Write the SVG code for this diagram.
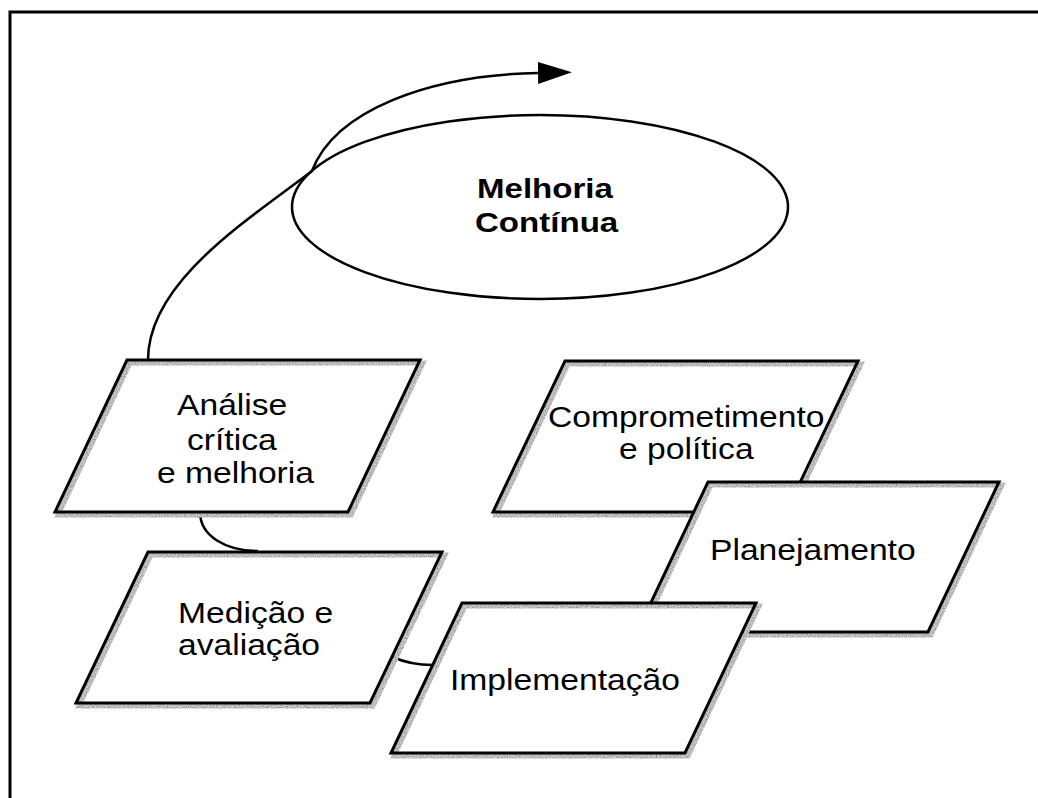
<svg xmlns="http://www.w3.org/2000/svg" width="1038" height="798" viewBox="0 0 1038 798">
  <defs>
    <style>
      .frame { fill: none; stroke: #000; stroke-width: 3; }
      .box { fill: #fff; stroke: none; }
      .shadow { fill: none; stroke: #7a7a7a; stroke-width: 5; stroke-linejoin: miter; filter: url(#grain); }
      .edge { fill: none; stroke: #000; stroke-width: 3; stroke-linejoin: miter; }
      .oval { fill: #fff; stroke: #000; stroke-width: 2.5; }
      .link { fill: none; stroke: #000; stroke-width: 2.5; }
      .lbl { font-family: "Liberation Sans", Arial, Helvetica, sans-serif; font-size: 29px; fill: #000; }
      .title { font-family: "Liberation Sans", Arial, Helvetica, sans-serif; font-size: 28.5px; font-weight: bold; fill: #000; }
    </style>
    <!-- speckled grey texture for the drop shadows -->
    <filter id="grain" filterUnits="userSpaceOnUse" x="0" y="0" width="1038" height="798">
      <feTurbulence type="fractalNoise" baseFrequency="0.9" numOctaves="1" seed="3" result="noise"/>
      <feColorMatrix in="noise" type="matrix" values="0.9 0 0 0 0.05  0.9 0 0 0 0.05  0.9 0 0 0 0.05  0 0 0 0 1" result="grey"/>
      <feComposite in="grey" in2="SourceGraphic" operator="in"/>
    </filter>
    <marker id="arrow" markerUnits="userSpaceOnUse" markerWidth="36" markerHeight="24" refX="0" refY="11" orient="auto" viewBox="0 0 36 24">
      <path d="M0,0 L34,11 L0,22 Z" fill="#000"/>
    </marker>
  </defs>

  <!-- outer frame (only top and left edges fall inside the page) -->
  <rect class="frame" x="10" y="12" width="1100" height="900"/>

  <!-- central goal -->
  <g id="melhoria-continua">
    <ellipse class="oval" cx="540" cy="207" rx="248" ry="92"/>
    <text class="title" transform="translate(477,198) scale(1.16,1)">Melhoria</text>
    <text class="title" transform="translate(475,232) scale(1.16,1)">Contínua</text>
  </g>

  <!-- connectors -->
  <g id="connectors">
    <path class="link" d="M148,360 C148,282 248,220 312,171"/>
    <path class="link" d="M312,171 C335,110 430,75 538,73" marker-end="url(#arrow)"/>
    <path class="link" d="M200,512 C200,536 226,551 258,551"/>
    <path class="link" d="M393,657 Q410,665 433,665"/>
  </g>

  <g id="analise">
    <polygon class="box" points="127,360 420,360 348,512 55,512"/>
    <polygon class="shadow" transform="translate(3,3)" points="127,360 420,360 348,512 55,512"/>
    <polygon class="edge" points="127,360 420,360 348,512 55,512"/>
    <text class="lbl" transform="translate(177,415) scale(1.16,1)">Análise</text>
    <text class="lbl" transform="translate(187,450) scale(1.16,1)">crítica</text>
    <text class="lbl" transform="translate(157,483) scale(1.16,1)">e melhoria</text>
  </g>

  <g id="medicao">
    <polygon class="box" points="148,552 442,552 370,703 76,703"/>
    <polygon class="shadow" transform="translate(3,3)" points="148,552 442,552 370,703 76,703"/>
    <polygon class="edge" points="148,552 442,552 370,703 76,703"/>
    <text class="lbl" transform="translate(178,623) scale(1.16,1)">Medição e</text>
    <text class="lbl" transform="translate(178,655) scale(1.16,1)">avaliação</text>
  </g>

  <g id="comprometimento">
    <polygon class="box" points="565,361 858,361 786,512 493,512"/>
    <polygon class="shadow" transform="translate(3,3)" points="565,361 858,361 786,512 493,512"/>
    <polygon class="edge" points="565,361 858,361 786,512 493,512"/>
    <text class="lbl" transform="translate(548,427) scale(1.16,1)">Comprometimento</text>
    <text class="lbl" transform="translate(619,459) scale(1.16,1)">e política</text>
  </g>

  <g id="planejamento">
    <polygon class="box" points="708,482 999,482 928,632 637,632"/>
    <polygon class="shadow" transform="translate(3,3)" points="708,482 999,482 928,632 637,632"/>
    <polygon class="edge" points="708,482 999,482 928,632 637,632"/>
    <text class="lbl" transform="translate(710,560) scale(1.16,1)">Planejamento</text>
  </g>

  <g id="implementacao">
    <polygon class="box" points="462,603 756,603 685,753 391,753"/>
    <polygon class="shadow" transform="translate(3,3)" points="462,603 756,603 685,753 391,753"/>
    <polygon class="edge" points="462,603 756,603 685,753 391,753"/>
    <text class="lbl" transform="translate(450,690) scale(1.16,1)">Implementação</text>
  </g>
</svg>
